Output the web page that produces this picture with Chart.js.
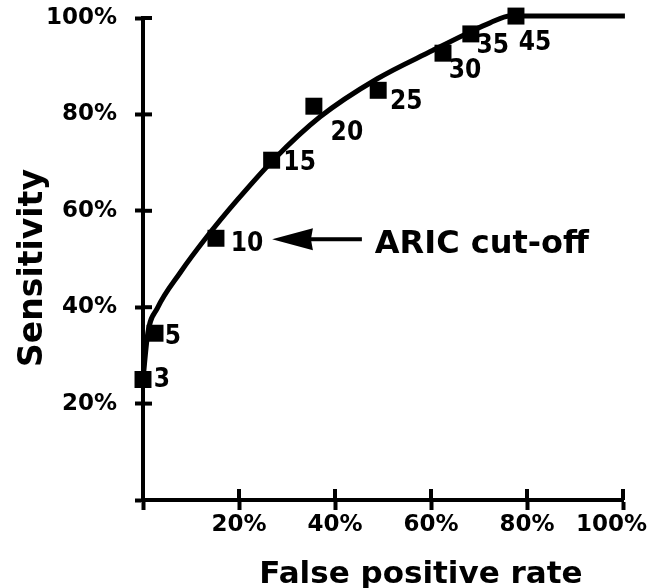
<!DOCTYPE html>
<html><head><meta charset="utf-8">
<script src="https://cdn.jsdelivr.net/npm/chart.js@4.4.0/dist/chart.umd.min.js"></script>
<style>html,body{margin:0;padding:0;background:#fff}#wrap{width:650px;height:588px;position:relative}</style>
</head><body><div id="wrap"><canvas id="c"></canvas></div>
<script>
// ---- data ----
const thresholds = ['3', '5', '10', '15', '20', '25', '30', '35', '45'];
const falsePositive = [0, 2.5, 15.2, 26.8, 35.6, 49, 62.5, 68.3, 77.7];
const sensitivity = [25, 34.6, 54.3, 70.5, 81.7, 85, 92.7, 96.7, 100.4];
const curveX = [0, 1, 3, 7.7, 13.3, 19.6, 27.1, 36.9, 48.8, 60.4, 67.5, 72.3, 76.5, 100.4];
const curveY = [25, 34.6, 39.8, 47.1, 54.6, 62.2, 70.5, 79.5, 87.4, 93.3, 96.8, 99.0, 100.4, 100.4];
const tickValues = [0, 20, 40, 60, 80, 100];
const xTickLabels = ['', '20%', '40%', '60%', '80%', '100%\u2003'];
const yTickLabels = ['', '20%', '40%', '60%', '80%', '100%'];
const xTitle = 'False positive rate';
const yTitle = 'Sensitivity';
const cutoffLabel = 'ARIC cut-off';

// ---- layout / style (not data) ----
const FONT = '"DejaVu Sans", sans-serif';
const NUMFONT = '"DejaVu Sans Condensed", "DejaVu Sans", sans-serif';
const labelOffsets = [[19, 1], [18, 4], [31, 6], [28, 3], [33, 27], [28, 12], [22, 18], [22, 12], [19, 27]];

const decor = {
  id: 'decor',
  afterDraw(chart) {
    const {ctx, chartArea: a, scales: {x, y}} = chart;
    ctx.save();
    ctx.fillStyle = '#000';
    ctx.strokeStyle = '#000';
    ctx.lineWidth = 4;
    // inner halves of the crossing tick marks
    tickValues.forEach(v => {
      if (!v) return;
      const px = x.getPixelForValue(v);
      ctx.beginPath(); ctx.moveTo(px, a.bottom); ctx.lineTo(px, a.bottom - 11); ctx.stroke();
      const py = y.getPixelForValue(v);
      ctx.beginPath(); ctx.moveTo(a.left, py); ctx.lineTo(a.left + 9, py); ctx.stroke();
    });
    // threshold labels
    ctx.font = 'bold 26px ' + NUMFONT;
    ctx.textAlign = 'center';
    ctx.textBaseline = 'middle';
    thresholds.forEach((t, i) => {
      const px = x.getPixelForValue(falsePositive[i]) + labelOffsets[i][0];
      const py = y.getPixelForValue(sensitivity[i]) + labelOffsets[i][1];
      ctx.fillText(t, px, py);
    });
    // arrow to the ARIC cut-off point
    const ay = y.getPixelForValue(54.1);
    const tipX = x.getPixelForValue(26.9), baseX = x.getPixelForValue(35.4), endX = x.getPixelForValue(45.6);
    ctx.beginPath();
    ctx.moveTo(tipX, ay); ctx.lineTo(baseX, ay - 11); ctx.lineTo(baseX - 2, ay); ctx.lineTo(baseX, ay + 11);
    ctx.closePath(); ctx.fill();
    ctx.fillRect(baseX - 4, ay - 2, endX - baseX + 4, 4);
    ctx.font = 'bold 32px ' + FONT;
    ctx.textAlign = 'left';
    ctx.textBaseline = 'alphabetic';
    ctx.fillText(cutoffLabel, x.getPixelForValue(48.3), y.getPixelForValue(51.2));
    // axis titles
    ctx.font = 'bold 31px ' + FONT;
    ctx.textAlign = 'center';
    ctx.fillText(xTitle, x.getPixelForValue(57.9), a.bottom + 83);
    ctx.translate(42, a.top + 250);
    ctx.rotate(-Math.PI / 2);
    ctx.font = 'bold 33px ' + FONT;
    ctx.fillText(yTitle, 0, 0);
    ctx.restore();
  }
};

function axisCommon(labels, tickLen, pad) {
  return {
    type: 'linear', min: 0, max: 100,
    afterBuildTicks: s => { s.ticks = tickValues.map(v => ({value: v})); },
    ticks: {
      callback: (v) => labels[tickValues.indexOf(v)],
      autoSkip: false,
      color: '#000', font: {family: FONT, size: 23, weight: 'bold'}, padding: pad, maxRotation: 0, minRotation: 0
    },
    grid: {display: true, drawOnChartArea: false, drawTicks: true, tickLength: tickLen, tickWidth: 4, color: '#000'},
    border: {display: true, width: 4, color: '#000'}
  };
}

const xAxis = axisCommon(xTickLabels, 10, 1);
xAxis.afterFit = s => { s.height = 88; s.paddingLeft = 0; s.paddingRight = 0; };
const yAxis = axisCommon(yTickLabels, 8, 18);
yAxis.afterFit = s => { s.width = 143; s.paddingTop = 0; s.paddingBottom = 0; };

new Chart(document.getElementById('c'), {
  type: 'scatter',
  data: {
    datasets: [
      {
        label: 'ROC curve',
        data: curveX.map((v, i) => ({x: v, y: curveY[i]})),
        showLine: true, borderColor: '#000', borderWidth: 5,
        cubicInterpolationMode: 'monotone', pointRadius: 0, clip: false
      },
      {
        label: 'Thresholds',
        data: falsePositive.map((v, i) => ({x: v, y: sensitivity[i]})),
        showLine: false, pointStyle: 'rect', pointRadius: 12,
        backgroundColor: '#000', borderColor: '#000', borderWidth: 0, clip: false
      }
    ]
  },
  options: {
    responsive: true, maintainAspectRatio: false, animation: false,
    layout: {padding: {top: 18, right: 27, left: 0, bottom: 0}},
    plugins: {legend: {display: false}, tooltip: {enabled: false}},
    scales: {x: xAxis, y: yAxis}
  },
  plugins: [decor]
});
</script>
</body></html>
